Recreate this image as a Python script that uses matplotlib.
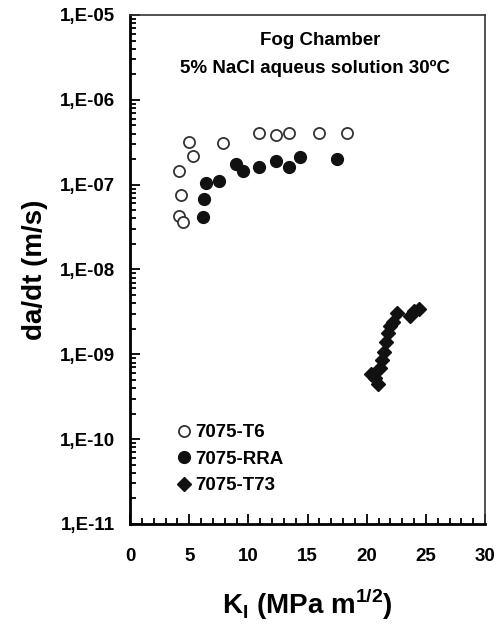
import matplotlib
matplotlib.use("Agg")
import matplotlib.pyplot as plt
from matplotlib.ticker import FixedLocator, LogLocator, MultipleLocator, NullFormatter

# 7075-T6 (open circles)
t6_k = [4.1, 4.3, 4.1, 4.45, 4.99, 5.35, 7.86, 10.93, 12.34, 13.44, 15.97, 18.36]
t6_v = [4.3e-8, 7.6e-8, 1.45e-7, 3.6e-8, 3.2e-7, 2.2e-7, 3.1e-7, 4.1e-7, 3.85e-7, 4.1e-7, 4.1e-7, 4.1e-7]

# 7075-RRA (filled circles)
rra_k = [6.14, 6.28, 6.42, 7.50, 8.96, 9.52, 10.93, 12.34, 13.44, 14.37, 17.47]
rra_v = [4.2e-8, 6.7e-8, 1.04e-7, 1.11e-7, 1.74e-7, 1.45e-7, 1.63e-7, 1.91e-7, 1.63e-7, 2.1e-7, 2.0e-7]

# 7075-T73 (filled diamonds)
t73_k = [20.37, 20.70, 20.96, 21.13, 21.30, 21.47, 21.63, 21.80, 21.97, 22.23, 22.56, 23.66, 24.0, 24.42]
t73_v = [5.9e-10, 5.3e-10, 4.5e-10, 6.9e-10, 8.6e-10, 1.06e-9, 1.4e-9, 1.78e-9, 2.16e-9, 2.4e-9,
         3.07e-9, 2.83e-9, 3.24e-9, 3.42e-9]

y_ticks = [1e-11, 1e-10, 1e-9, 1e-8, 1e-7, 1e-6, 1e-5]
y_labels = ["1,E-11", "1,E-10", "1,E-09", "1,E-08", "1,E-07", "1,E-06", "1,E-05"]
x_ticks = [0, 5, 10, 15, 20, 25, 30]

plt.rcParams["font.family"] = ["Liberation Sans", "DejaVu Sans"]
plt.rcParams["font.weight"] = "bold"

fig = plt.figure(figsize=(5, 6.24), dpi=100)
ax = fig.add_axes([0.26, 0.1603, 0.71, 0.8157])

ax.plot(t6_k, t6_v, "o", ms=8, mfc="white", mec="#333333", mew=1.3, ls="none", label="7075-T6")
ax.plot(rra_k, rra_v, "o", ms=8.5, mfc="#111111", mec="#111111", ls="none", label="7075-RRA")
ax.plot(t73_k, t73_v, "D", ms=7.5, mfc="#111111", mec="#111111", ls="none", label="7075-T73")

ax.set_yscale("log")
ax.set_xlim(0, 30)
ax.set_ylim(1e-11, 1e-5)

ax.yaxis.set_major_locator(FixedLocator(y_ticks))
ax.set_yticklabels(y_labels)
ax.yaxis.set_minor_locator(LogLocator(base=10, subs=range(2, 10)))
ax.yaxis.set_minor_formatter(NullFormatter())
ax.xaxis.set_major_locator(FixedLocator(x_ticks))
ax.xaxis.set_minor_locator(MultipleLocator(1))

ax.tick_params(which="both", direction="in", right=False, top=False, labelsize=13.5, width=1.3)
ax.tick_params(which="major", length=7)
ax.tick_params(which="minor", length=4)
ax.tick_params(axis="y", which="major", pad=11)
ax.tick_params(axis="x", which="major", pad=17)
for lbl in ax.get_xticklabels() + ax.get_yticklabels():
    lbl.set_fontweight("bold")

for sp in ax.spines.values():
    sp.set_linewidth(1.2)
    sp.set_color("#333333")
ax.spines["left"].set_linewidth(2)
ax.spines["bottom"].set_linewidth(2)
ax.spines["left"].set_color("black")
ax.spines["bottom"].set_color("black")

ax.set_ylabel("da/dt (m/s)", fontsize=20, fontweight="bold", labelpad=8)
ax.set_xlabel(r"K$_\mathregular{I}$ (MPa m$^\mathregular{1/2}$)", fontsize=20, fontweight="bold", labelpad=16)

ax.text(0.535, 0.95, "Fog Chamber", transform=ax.transAxes, ha="center", va="center",
        fontsize=13.5, fontweight="bold")
ax.text(0.52, 0.895, "5% NaCl aqueus solution 30ºC", transform=ax.transAxes, ha="center", va="center",
        fontsize=13.5, fontweight="bold")

ax.legend(loc="lower left", bbox_to_anchor=(0.08, 0.025), frameon=False, handletextpad=0.15,
          handlelength=0.9, labelspacing=0.5, prop={"weight": "bold", "size": 13.5})

fig.savefig("out.png", dpi=100)
